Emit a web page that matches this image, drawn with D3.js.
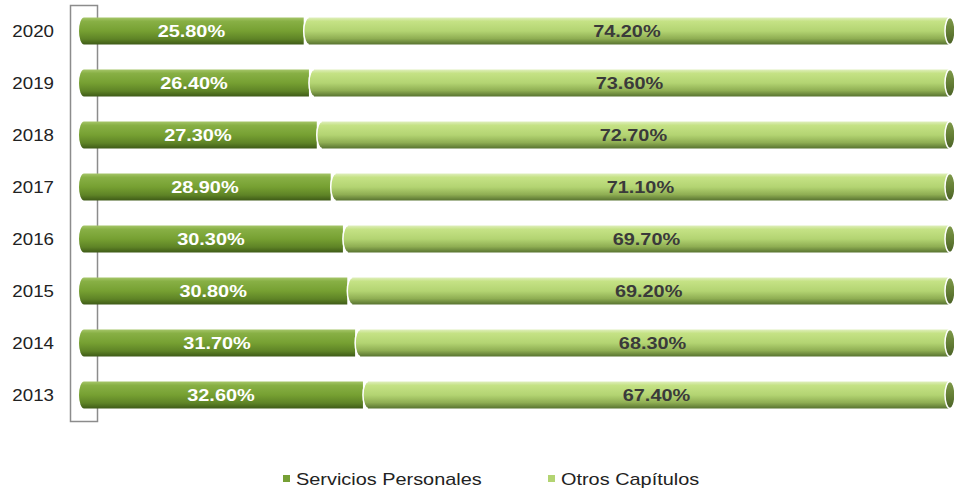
<!DOCTYPE html>
<html>
<head>
<meta charset="utf-8">
<script src="https://cdn.jsdelivr.net/npm/d3@7"></script>
<style>
  body { margin: 0; background: #fff; }
  text { font-family: "Liberation Sans", Arial, sans-serif; }
</style>
</head>
<body>
<svg width="954" height="490"></svg>
<script>
const years = ['2020', '2019', '2018', '2017', '2016', '2015', '2014', '2013'];
const servicios = [25.8, 26.4, 27.3, 28.9, 30.3, 30.8, 31.7, 32.6];
const otros = [74.2, 73.6, 72.7, 71.1, 69.7, 69.2, 68.3, 67.4];
const seriesNames = ['Servicios Personales', 'Otros Capítulos'];

const svg = d3.select('svg');
const stretch = 1.17; // the source text is a bit wider than tall

const defs = svg.append('defs');
const grad = (id, stops) => {
	const g = defs.append('linearGradient').attr('id', id)
		.attr('x1', 0).attr('y1', 0).attr('x2', 0).attr('y2', 1);
	stops.forEach(([o, c]) => g.append('stop').attr('offset', o).attr('stop-color', c));
};
grad('gDark', [[0, '#a6c66a'], [0.14, '#88b045'], [0.5, '#76a032'], [0.8, '#5e8326'], [1, '#3e5a17']]);
grad('gLight', [[0, '#e0efbd'], [0.14, '#c5e285'], [0.5, '#b3d472'], [0.78, '#8fae53'], [1, '#587330']]);
grad('gCap', [[0, '#7f9a4a'], [0.5, '#657f36'], [1, '#4a6126']]);

const xScale = d3.scaleLinear().domain([0, 100]).range([79, 950]);
const yScale = d3.scaleBand().domain(years).range([5, 421]).paddingInner(0.48).paddingOuter(0.24);

const bh = yScale.bandwidth();
const rx = 5;

// back frame of the category axis
svg.append('rect')
	.attr('x', 70.5).attr('y', 5.5)
	.attr('width', 27).attr('height', 416)
	.attr('fill', 'none')
	.attr('stroke', '#8c8c8c')
	.attr('stroke-width', 1.5);

const rows = years.map((y, i) => ({ year: y, a: servicios[i], b: otros[i] }));

const g = svg.append('g');
rows.forEach(d => {
	const y0 = yScale(d.year);
	const cy = y0 + bh / 2;
	const x0 = xScale(0);
	const x1 = xScale(d.a);
	const x2 = xScale(d.a + d.b);

	// dark segment with rounded left end
	g.append('path')
		.attr('d', `M${x0 + rx},${y0} L${x1},${y0} L${x1},${y0 + bh} L${x0 + rx},${y0 + bh} A${rx},${bh / 2} 0 0 1 ${x0 + rx},${y0} Z`)
		.attr('fill', 'url(#gDark)');

	// light segment, its left edge is the white cap outline
	g.append('path')
		.attr('d', `M${x1 + rx},${y0} L${x2},${y0} L${x2},${y0 + bh} L${x1 + rx},${y0 + bh} A${rx},${bh / 2} 0 0 1 ${x1 + rx},${y0} Z`)
		.attr('fill', 'url(#gLight)');
	g.append('path')
		.attr('d', `M${x1 + rx},${y0 + bh} A${rx},${bh / 2} 0 0 1 ${x1 + rx},${y0}`)
		.attr('fill', 'none')
		.attr('stroke', '#fff')
		.attr('stroke-width', 1.5);

	// end cap
	g.append('ellipse')
		.attr('cx', x2).attr('cy', cy)
		.attr('rx', rx).attr('ry', bh / 2)
		.attr('fill', 'url(#gCap)')
		.attr('stroke', '#fff')
		.attr('stroke-width', 1.5);

	// value labels
	g.append('text')
		.attr('transform', `translate(${(x0 + x1) / 2},${cy + 6}) scale(${stretch},1)`)
		.attr('text-anchor', 'middle')
		.attr('font-size', 17)
		.attr('font-weight', 'bold')
		.attr('fill', '#fff')
		.text(d.a.toFixed(2) + '%');
	g.append('text')
		.attr('transform', `translate(${(x1 + x2) / 2},${cy + 6}) scale(${stretch},1)`)
		.attr('text-anchor', 'middle')
		.attr('font-size', 17)
		.attr('font-weight', 'bold')
		.attr('fill', '#3a3a3a')
		.text(d.b.toFixed(2) + '%');

	// year label
	svg.append('text')
		.attr('transform', `translate(54,${cy + 6}) scale(${stretch},1)`)
		.attr('text-anchor', 'end')
		.attr('font-size', 16)
		.attr('fill', '#222')
		.text(d.year);
});

// legend
const legendX = [283, 548];
const legendColors = ['#76a035', '#b3d472'];
seriesNames.forEach((name, i) => {
	const lg = svg.append('g');
	lg.append('rect')
		.attr('x', legendX[i]).attr('y', 475)
		.attr('width', 7).attr('height', 7)
		.attr('fill', legendColors[i]);
	lg.append('text')
		.attr('transform', `translate(${legendX[i] + 13},485) scale(${stretch},1)`)
		.attr('font-size', 17)
		.attr('fill', '#222')
		.text(name);
});
</script>
</body>
</html>
